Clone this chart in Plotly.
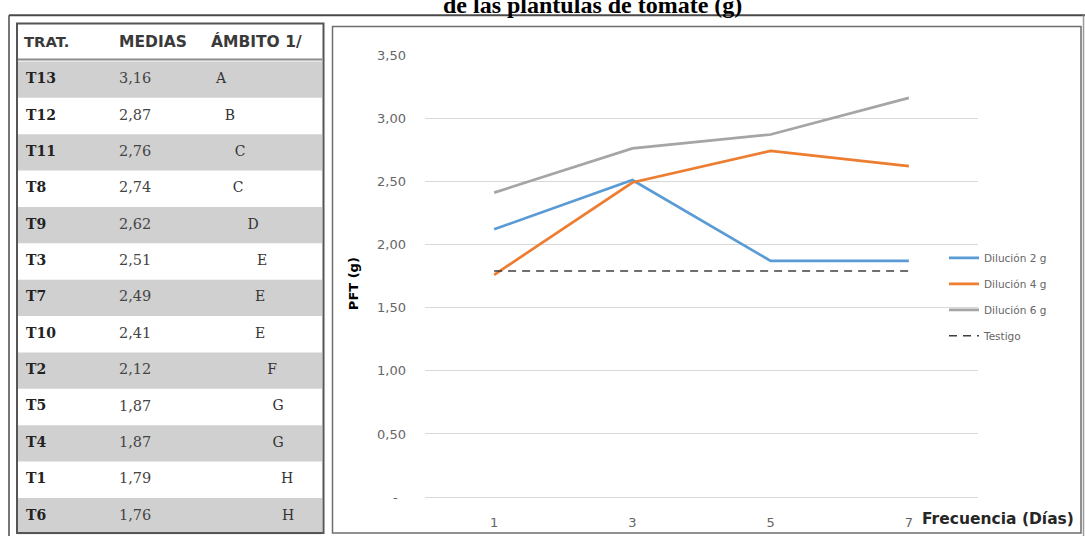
import plotly.graph_objects as go

# ---- data -------------------------------------------------------------
tratamientos = ["T13", "T12", "T11", "T8", "T9", "T3", "T7", "T10", "T2", "T5", "T4", "T1", "T6"]
medias = [3.16, 2.87, 2.76, 2.74, 2.62, 2.51, 2.49, 2.41, 2.12, 1.87, 1.87, 1.79, 1.76]
ambito = ["A", "B", "C", "C", "D", "E", "E", "E", "F", "G", "G", "H", "H"]
encabezados = ["TRAT.", "MEDIAS", "ÁMBITO 1/"]

frecuencia = ["1", "3", "5", "7"]
dilucion_2g = [2.12, 2.51, 1.87, 1.87]
dilucion_4g = [1.76, 2.49, 2.74, 2.62]
dilucion_6g = [2.41, 2.76, 2.87, 3.16]
testigo = [1.79, 1.79, 1.79, 1.79]

y_ticks = [0, 0.5, 1.0, 1.5, 2.0, 2.5, 3.0, 3.5]

# ---- styles -----------------------------------------------------------
W, H = 1085, 544
GRID = "#D9D9D9"
TXT = "#666666"
letter_x = [221, 230, 240, 238, 253, 262, 260, 260, 272, 278, 278, 287, 288]
header_x = [24, 119, 211]
header_size = [14.8, 15.5, 15.5]
ROW_TOP, ROW_H = 56, 37.4


def px(x):
    return x / W


def py(y):
    return 1 - y / H


def coma(v):
    return f"{v:.2f}".replace(".", ",")


fig = go.Figure()

# ---- line chart -------------------------------------------------------
series = [
    ("Dilución 2 g", dilucion_2g, dict(color="#5B9BD5", width=2.7)),
    ("Dilución 4 g", dilucion_4g, dict(color="#ED7D31", width=2.7)),
    ("Dilución 6 g", dilucion_6g, dict(color="#A5A5A5", width=2.7)),
    ("Testigo", testigo, dict(color="#404040", width=1.6, dash="8px,6px")),
]
for i, (name, vals, line) in enumerate(series):
    fig.add_trace(go.Scatter(
        x=frecuencia, y=vals, name=name, mode="lines", line=line,
        legendgroup=f"g{i}", xaxis="x", yaxis="y",
    ))

# ---- table (pixel-like axes x2/y2) -------------------------------------
row_y = list(range(len(tratamientos)))
header_y = (37 - (ROW_TOP + ROW_H / 2)) / ROW_H
y2_top = -(ROW_TOP + ROW_H / 2) / ROW_H
y2_bot = (H - (ROW_TOP + ROW_H / 2)) / ROW_H

for hx, hs, htxt in zip(header_x, header_size, encabezados):
    fig.add_trace(go.Scatter(
        x=[hx], y=[header_y], text=[htxt], mode="text",
        textposition="middle right", showlegend=False, xaxis="x2", yaxis="y2",
        textfont=dict(family="DejaVu Sans", size=hs, color="#3A3A3A", weight="bold"),
        hoverinfo="skip",
    ))
fig.add_trace(go.Scatter(
    x=[26] * len(tratamientos), y=row_y, text=tratamientos, mode="text",
    textposition="middle right", showlegend=False, xaxis="x2", yaxis="y2",
    textfont=dict(family="DejaVu Serif", size=14, color="#222222", weight="bold"),
    hoverinfo="skip",
))
fig.add_trace(go.Scatter(
    x=[119] * len(medias), y=row_y, text=[coma(v) for v in medias], mode="text",
    textposition="middle right", showlegend=False, xaxis="x2", yaxis="y2",
    textfont=dict(family="DejaVu Serif", size=14.5, color="#444444"),
    hoverinfo="skip",
))
fig.add_trace(go.Scatter(
    x=letter_x, y=row_y, text=ambito, mode="text",
    textposition="middle center", showlegend=False, xaxis="x2", yaxis="y2",
    textfont=dict(family="DejaVu Serif", size=14, color="#333333"),
    hoverinfo="skip",
))

shapes = []
# alternating grey rows
for i in row_y:
    if i % 2 == 0:
        shapes.append(dict(type="rect", xref="x2", yref="y2", x0=18, x1=322,
                           y0=i - 0.5, y1=i + 0.5, fillcolor="#D0D0D0",
                           line=dict(width=0), layer="below"))
# header rule
shapes.append(dict(type="line", xref="paper", yref="paper", x0=px(18), x1=px(322),
                   y0=py(54), y1=py(54), line=dict(color="#8C8C8C", width=2)))
# table frame
shapes.append(dict(type="rect", xref="paper", yref="paper", x0=px(17), x1=px(323.5),
                   y0=py(541), y1=py(17), line=dict(color="#555555", width=2)))
# chart frame
shapes.append(dict(type="rect", xref="paper", yref="paper", x0=px(332.5), x1=px(1081),
                   y0=py(541), y1=py(20), line=dict(color="#6E6E6E", width=1.5)))
# outer page frame
shapes.append(dict(type="line", xref="paper", yref="paper", x0=px(9), x1=px(1085),
                   y0=py(8.5), y1=py(8.5), line=dict(color="#4A4A4A", width=2)))
shapes.append(dict(type="line", xref="paper", yref="paper", x0=px(9), x1=px(9),
                   y0=py(544), y1=py(8.5), line=dict(color="#4A4A4A", width=1.5)))
shapes.append(dict(type="line", xref="paper", yref="paper", x0=px(1083.5), x1=px(1083.5),
                   y0=py(544), y1=py(8.5), line=dict(color="#9A9A9A", width=1.5)))

annotations = [
    dict(text="<b>de las plantulas de tomate (g)</b>", xref="paper", yref="paper",
         x=px(592), y=py(-2.5), xanchor="center", yanchor="middle", showarrow=False,
         font=dict(family="Liberation Serif", size=24, color="#000000")),
    dict(text="<b>PFT (g)</b>", xref="paper", yref="paper", x=px(353), y=py(285),
         xanchor="center", yanchor="middle", textangle=-90, showarrow=False,
         font=dict(family="DejaVu Sans", size=13, color="#000000")),
    dict(text="<b>Frecuencia (Días)</b>", xref="paper", yref="paper", x=px(998), y=py(527),
         xanchor="center", yanchor="middle", showarrow=False,
         font=dict(family="DejaVu Sans", size=15.5, color="#262626")),
]

fig.update_layout(
    width=W, height=H,
    margin=dict(l=0, r=0, t=0, b=0),
    paper_bgcolor="white", plot_bgcolor="rgba(0,0,0,0)",
    shapes=shapes, annotations=annotations,
    xaxis=dict(
        type="category", categoryorder="array", categoryarray=frecuencia,
        domain=[px(425), px(978)], range=[-0.5, 3.5], anchor="y",
        showgrid=False, showline=False, zeroline=False, ticks="",
        ticklabelstandoff=16,
        tickfont=dict(family="DejaVu Sans", size=13, color=TXT),
    ),
    yaxis=dict(
        domain=[py(504), py(49.3)], range=[0, 3.5], anchor="x",
        tickvals=y_ticks,
        ticktext=["-\u00a0\u00a0"] + [coma(v) for v in y_ticks[1:]],
        showgrid=True, gridcolor=GRID, gridwidth=1,
        zeroline=True, zerolinecolor=GRID, zerolinewidth=1,
        showline=False, ticks="", ticklabelstandoff=18,
        tickfont=dict(family="DejaVu Sans", size=13, color=TXT),
    ),
    xaxis2=dict(domain=[0, 1], range=[0, W], visible=False, anchor="y2", fixedrange=True),
    yaxis2=dict(domain=[0, 1], range=[y2_bot, y2_top], visible=False, anchor="x2",
                fixedrange=True),
    legend=dict(
        x=px(944), y=py(243), xanchor="left", yanchor="top",
        bgcolor="rgba(0,0,0,0)", traceorder="grouped", tracegroupgap=7,
        font=dict(family="DejaVu Sans", size=10.5, color=TXT),
        itemwidth=30,
    ),
    showlegend=True,
)

fig.write_html("out.html")
